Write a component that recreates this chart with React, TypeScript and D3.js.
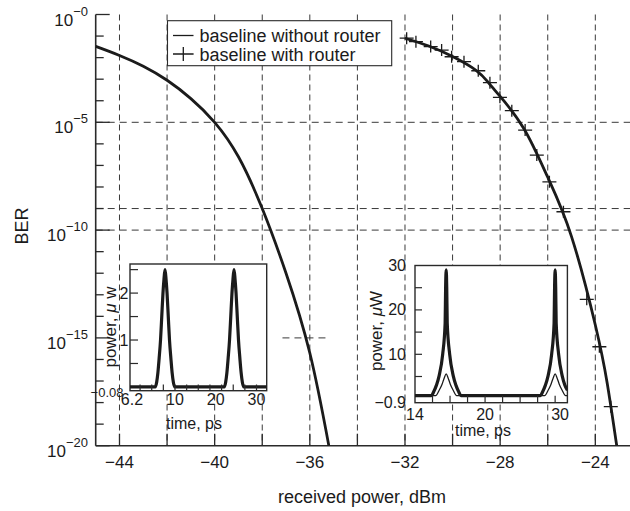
import React from 'react';
import * as d3 from 'd3';

const W = 630;
const H = 511;

// ---------- main chart data ----------
const powerNoRouter = [-45, -44, -43, -42, -41, -40, -39, -38, -37, -36, -35.2];
const logBerNoRouter = [-1.48, -1.9, -2.4, -3.05, -3.9, -5.0, -6.6, -9.0, -12.0, -15.7, -20];

const powerRouterLine = [-32, -31, -30, -29, -28.5, -28, -27, -26, -25, -24, -23.5, -23.1];
const logBerRouterLine = [-1.1, -1.46, -1.95, -2.6, -3.15, -3.8, -5.3, -7.55, -10.3, -14.4, -17.1, -20];

const powerRouterMarks = [-31.93, -31.54, -30.92, -30.46, -30.04, -29.52, -28.92, -28.43, -28.01, -27.51, -26.95, -26.46, -25.93, -25.34, -24.36, -23.83, -23.35];
const logBerRouterMarks = [-1.1, -1.26, -1.49, -1.65, -1.96, -2.19, -2.61, -3.16, -3.84, -4.46, -5.36, -6.52, -7.76, -9.15, -13.21, -15.41, -18.19];

const xTicks = [-44, -42, -40, -38, -36, -34, -32, -30, -28, -26, -24, -22];
const xLabelTicks = [-44, -40, -36, -32, -28, -24];
const xLabelTexts = ['\u221244', '\u221240', '\u221236', '\u221232', '\u221228', '\u221224'];
const yDecades = [0, -1, -2, -3, -4, -5, -6, -7, -8, -9, -10, -11, -12, -13, -14, -15, -16, -17, -18, -19, -20];
const yMajorDecades = [0, -5, -10, -15, -20];
const yMajorExpTexts = ['\u22120', '\u22125', '\u221210', '\u221215', '\u221220'];
const gridDecadesFull = [-5, -9, -10];
const gridDecadesPartial = [-15];
const gridPartialRange = [-37.15, -35.3];
const legendLabels = ['baseline without router', 'baseline with router'];

// ---------- inset 1 data (time ps, power uW) ----------
const inset1Time = [-1.04, 5.15, 5.5, 5.8, 6.1, 6.45, 6.75, 7.05, 7.3, 7.55, 7.8, 8.05, 8.35, 8.65, 9.0, 9.3, 9.6, 9.95,
  22.08, 22.43, 22.73, 23.03, 23.38, 23.68, 23.98, 24.23, 24.48, 24.73, 24.98, 25.28, 25.58, 25.93, 26.23, 26.53, 26.88, 32.5];
const inset1Power = [0, 0, 0.1, 0.3, 0.6, 1.0, 1.5, 2.0, 2.3, 2.5, 2.3, 2.0, 1.5, 1.0, 0.6, 0.3, 0.1, 0,
  0, 0.1, 0.3, 0.6, 1.0, 1.5, 2.0, 2.3, 2.5, 2.3, 2.0, 1.5, 1.0, 0.6, 0.3, 0.1, 0, 0];
const inset1XTicks = [1.43, 4.29, 7.14, 10, 12.86, 15.71, 18.57, 21.43, 24.29, 27.14, 30];
const inset1XLabelVals = [-0.55, 10, 20, 30];
const inset1XLabelTexts = ['6.2', '10', '20', '30'];
const inset1YTicks = [0.5, 1, 1.5, 2, 2.5];
const inset1YLabelVals = [2, 1];
const inset1YLabelTexts = ['2', '1'];

// ---------- inset 2 data ----------
const inset2Time = [10, 12.35, 12.65, 13.05, 13.45, 13.95, 14.3, 14.37, 14.45, 14.53, 14.6, 14.95, 15.45, 15.85, 16.25, 16.55,
  27.9, 28.2, 28.6, 29.0, 29.5, 29.85, 29.92, 30.0, 30.08, 30.15, 30.5, 31.0, 31.4, 31.75];
const inset2Power = [0.7, 0.7, 1.5, 3, 5.2, 10, 17, 25, 29, 25, 17, 10, 5.2, 3, 1.5, 0.7,
  0.7, 1.5, 3, 5.2, 10, 17, 25, 29, 25, 17, 10, 5.2, 3, 1.9];
const inset2ThinTime = [10, 12.95, 13.45, 13.85, 14.2, 14.45, 14.7, 15.05, 15.45, 15.95,
  28.5, 29.0, 29.4, 29.75, 30.0, 30.25, 30.6, 31.0, 31.5, 31.75];
const inset2ThinPower = [0.7, 0.7, 1.9, 3.2, 4.8, 5.6, 4.8, 3.2, 1.9, 0.7,
  0.7, 1.9, 3.2, 4.8, 5.6, 4.8, 3.2, 1.9, 0.7, 0.7];
const inset2XTicks = [12.5, 15, 17.5, 20, 22.5, 25, 27.5, 30];
const inset2XLabelVals = [10, 20, 30.7];
const inset2XLabelTexts = ['14', '20', '30'];
const inset2YTicks = [5, 10, 15, 20, 25];
const inset2YLabelVals = [30, 20, 10, -0.9];
const inset2YLabelTexts = ['30', '20', '10', '\u22120.9'];

const FONT = 'Liberation Sans, Arial, Helvetica, sans-serif';
const INK = '#1b1b1b';
const AXIS = '#2a2a2a';
const GRID = '#3a3a3a';

function pathOf(xs: number[], ys: number[], fx: (v: number) => number, fy: (v: number) => number, curve: any = d3.curveMonotoneX) {
  const idx = xs.map((_, i) => i);
  return d3.line<number>().x((i) => fx(xs[i])).y((i) => fy(ys[i])).curve(curve)(idx) || '';
}

export default function App() {
  const x = d3.scaleLinear().domain([-45, -22]).range([95.7, 642.9]);
  const y = d3.scaleLog().domain([1, 1e-20]).range([14.5, 445.7]);
  const yd = (e: number) => y(Math.pow(10, e));
  const left = x(-45);
  const bottom = yd(-20);
  const top = yd(0);

  const i1x = d3.scaleLinear().domain([-1.04, 32.5]).range([130, 266.7]);
  const i1y = d3.scaleLinear().domain([-0.08, 2.62]).range([390.7, 264]);
  const i2x = d3.scaleLinear().domain([10, 31.75]).range([415, 567.4]);
  const i2y = d3.scaleLinear().domain([-0.9, 30]).range([402.7, 265.5]);

  const plus = (cx: number, cy: number, hw: number, hh: number) => `M${cx - hw},${cy}h${2 * hw}M${cx},${cy - hh}v${2 * hh}`;

  return (
    <svg width={W} height={H} style={{ position: 'absolute', left: 0, top: 0, background: '#fff' }} fontFamily={FONT}>
      <defs>
        <clipPath id="plotClip"><rect x={left} y={top - 2} width={W - left} height={bottom - top + 2} /></clipPath>
        <clipPath id="i1Clip"><rect x={i1x.range()[0]} y={i1y.range()[1]} width={i1x.range()[1] - i1x.range()[0]} height={i1y.range()[0] - i1y.range()[1]} /></clipPath>
        <clipPath id="i2Clip"><rect x={i2x.range()[0]} y={i2y.range()[1]} width={i2x.range()[1] - i2x.range()[0]} height={i2y.range()[0] - i2y.range()[1]} /></clipPath>
      </defs>
      <rect x={0} y={0} width={W} height={H} fill="#fff" />

      <g stroke={GRID} strokeWidth={1} strokeDasharray="6,4" fill="none">
        {xTicks.map((t) => (
          <line key={'gx' + t} x1={x(t)} x2={x(t)} y1={top} y2={bottom} />
        ))}
        {gridDecadesFull.map((e) => (
          <line key={'gy' + e} x1={left} x2={W} y1={yd(e)} y2={yd(e)} strokeDasharray="7,5" />
        ))}
        {gridDecadesPartial.map((e) => (
          <line key={'gp' + e} x1={x(gridPartialRange[0])} x2={x(gridPartialRange[1])} y1={yd(e)} y2={yd(e)} strokeDasharray="7,5" />
        ))}
      </g>

      <g stroke={AXIS} fill="none">
        <line x1={left} x2={left} y1={top} y2={bottom} strokeWidth={1.6} />
        <line x1={left} x2={W} y1={bottom} y2={bottom} strokeWidth={1.6} />
        {yDecades.map((e) => (
          <line key={'yt' + e} x1={left} x2={left + (e % 5 === 0 ? 14 : 8)} y1={yd(e)} y2={yd(e)} strokeWidth={1.3} />
        ))}
        {xTicks.map((t) => (
          <line key={'xt' + t} x1={x(t)} x2={x(t)} y1={bottom} y2={bottom - 12} strokeWidth={1.3} />
        ))}
      </g>

      <g fill={INK} fontSize={17}>
        {xLabelTicks.map((t, i) => (
          <text key={'xl' + t} x={x(t)} y={468} textAnchor="middle">{xLabelTexts[i]}</text>
        ))}
        {yMajorDecades.map((e, i) => (
          <text key={'yl' + e} x={88} y={yd(e) + 11} textAnchor="end">
            10<tspan fontSize={13} dy={-10}>{yMajorExpTexts[i]}</tspan>
          </text>
        ))}
      </g>

      <text x={362} y={503} textAnchor="middle" fontSize={18} fill={INK}>received power, dBm</text>
      <text transform={`translate(28,226) rotate(-90)`} textAnchor="middle" fontSize={18} fill={INK}>BER</text>

      <g clipPath="url(#plotClip)" fill="none" stroke={INK} strokeWidth={2.8} strokeLinejoin="round">
        <path d={pathOf(powerNoRouter, logBerNoRouter, x, yd, d3.curveNatural)} />
        <path d={pathOf(powerRouterLine, logBerRouterLine, x, yd, d3.curveNatural)} />
      </g>
      <g stroke={INK} strokeWidth={1.3} fill="none">
        {powerRouterMarks.map((p, i) => (
          <path key={'m' + i} d={plus(x(p), yd(logBerRouterMarks[i]), 7, 6)} />
        ))}
      </g>

      <g>
        <rect x={167.5} y={20.7} width={224.2} height={45} fill="#fff" stroke={AXIS} strokeWidth={1.1} />
        <line x1={173} x2={193.5} y1={35.5} y2={35.5} stroke={INK} strokeWidth={1.3} />
        <path d={plus(183.3, 54, 10.3, 7)} stroke={INK} strokeWidth={1.3} fill="none" />
        <text x={199.5} y={41.5} fontSize={18} fill={INK}>{legendLabels[0]}</text>
        <text x={199.5} y={60.5} fontSize={18} fill={INK}>{legendLabels[1]}</text>
      </g>

      <g>
        <rect x={130} y={264} width={136.7} height={126.7} fill="#fff" stroke={AXIS} strokeWidth={1.4} />
        <g clipPath="url(#i1Clip)">
          <path d={pathOf(inset1Time, inset1Power, i1x, i1y)} fill="none" stroke={INK} strokeWidth={3.2} strokeLinejoin="round" />
        </g>
        <g stroke={AXIS} strokeWidth={1.2}>
          {inset1XTicks.map((t) => (
            <line key={'i1xt' + t} x1={i1x(t)} x2={i1x(t)} y1={390.7} y2={384.5} />
          ))}
          {inset1YTicks.map((t) => (
            <line key={'i1yt' + t} x1={130} x2={138} y1={i1y(t)} y2={i1y(t)} />
          ))}
        </g>
        <g fill={INK} fontSize={16}>
          {inset1XLabelVals.map((v, i) => (
            <text key={'i1xl' + i} x={i1x(v)} y={405} textAnchor="middle">{inset1XLabelTexts[i]}</text>
          ))}
          {inset1YLabelVals.map((v, i) => (
            <text key={'i1yl' + i} x={128.5} y={i1y(v) + 5.5} textAnchor="end">{inset1YLabelTexts[i]}</text>
          ))}
          <text x={123.5} y={396.5} textAnchor="end" fontSize={13}>{'\u22120.08'}</text>
          <text x={194} y={428.5} textAnchor="middle">time, ps</text>
          <text transform="translate(116,327) rotate(-90)" textAnchor="middle" fontSize={17}>
            power, <tspan fontStyle="italic">{'\u03bc'}</tspan> w
          </text>
        </g>
      </g>

      <g>
        <rect x={415} y={265.5} width={152.4} height={137.2} fill="#fff" stroke={AXIS} strokeWidth={1.4} />
        <g clipPath="url(#i2Clip)" fill="none" stroke={INK} strokeLinejoin="round">
          <path d={pathOf(inset2Time, inset2Power, i2x, i2y)} strokeWidth={3.2} />
          <path d={pathOf(inset2ThinTime, inset2ThinPower, i2x, i2y)} strokeWidth={1.3} />
        </g>
        <g stroke={AXIS} strokeWidth={1.2}>
          {inset2XTicks.map((t) => (
            <line key={'i2xt' + t} x1={i2x(t)} x2={i2x(t)} y1={402.7} y2={395.7} />
          ))}
          {inset2YTicks.map((t) => (
            <line key={'i2yt' + t} x1={415} x2={422} y1={i2y(t)} y2={i2y(t)} />
          ))}
        </g>
        <g fill={INK} fontSize={16}>
          {inset2XLabelVals.map((v, i) => (
            <text key={'i2xl' + i} x={i2x(v)} y={420} textAnchor="middle">{inset2XLabelTexts[i]}</text>
          ))}
          {inset2YLabelVals.map((v, i) => (
            <text key={'i2yl' + i} x={406} y={i2y(v) + 5.5} textAnchor="end">{inset2YLabelTexts[i]}</text>
          ))}
          <text x={483} y={435.5} textAnchor="middle">time, ps</text>
          <text transform="translate(382,331) rotate(-90)" textAnchor="middle" fontSize={17}>
            power, <tspan fontStyle="italic">{'\u03bc'}</tspan>W
          </text>
        </g>
      </g>
    </svg>
  );
}
